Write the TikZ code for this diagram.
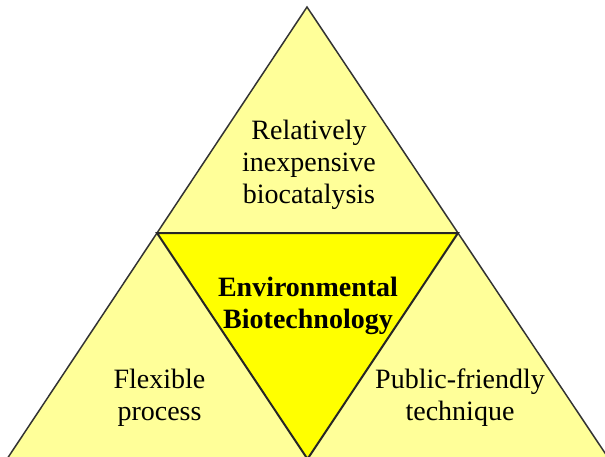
\documentclass[tikz,border=0pt]{standalone}
\usepackage{fontspec}
\setmainfont{Liberation Serif}
\usetikzlibrary{positioning}
\definecolor{paleyellow}{HTML}{FFFF99}
\definecolor{brightyellow}{HTML}{FFFF00}

\begin{document}
\begin{tikzpicture}[x=1pt,y=1pt,
    lbl/.style={align=center,font=\fontsize{28}{32}\selectfont}]
  \useasboundingbox (0,0) rectangle (605,456);
  \clip (0,0) rectangle (605,456);

  \coordinate (apex) at (307,449);
  \coordinate (left) at (157,223);
  \coordinate (right) at (458,223);
  \coordinate (bottom) at (307.5,-3);
  \coordinate (baseleft) at (7,-3);
  \coordinate (baseright) at (609,-3);

  % outer triangle
  \filldraw[fill=paleyellow,draw=black!80,line width=1.5pt] (apex) -- (baseleft) -- (baseright) -- cycle;

  % centre triangle
  \filldraw[fill=brightyellow,draw=black!85,line width=2pt] (left) -- (right) -- (bottom) -- cycle;

  % texts
  \node[lbl] (cost) at (309,291.5) {Relatively\\inexpensive\\biocatalysis};
  \node[lbl,font=\fontsize{28}{32}\selectfont\bfseries] (envbio) at (308,150) {Environmental\\Biotechnology};
  \node[lbl] (flex) at (159.5,58.5) {Flexible\\process};
  \node[lbl] (public) at (460,58.5) {Public-friendly\\technique};

\end{tikzpicture}
\end{document}
